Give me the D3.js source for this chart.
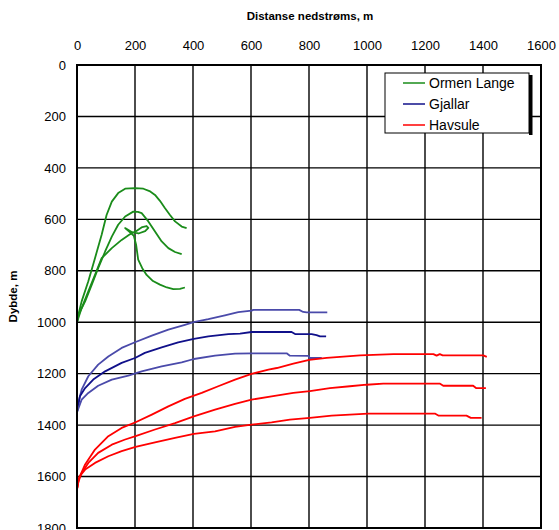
<!DOCTYPE html>
<html>
<head>
<meta charset="utf-8">
<script src="https://cdn.jsdelivr.net/npm/d3@7"></script>
<style>
  body { margin: 0; background: #fff; }
  svg { display: block; font-family: "Liberation Sans", Arial, sans-serif; }
</style>
</head>
<body>
<svg id="chart" width="559" height="530"></svg>
<script>
// Plume trajectories: [distance downstream (m), depth (m)]
const xTicks = [0, 200, 400, 600, 800, 1000, 1200, 1400, 1600];
const yTicks = [0, 200, 400, 600, 800, 1000, 1200, 1400, 1600, 1800];

const seriesNames = ["Ormen Lange", "Gjallar", "Havsule"];
const seriesColors = ["#1a8c1a", "#10108a", "#ff0000"];

const ormenLangeA = [[0,1000],[7,960],[16,919],[39,841],[62,751],[85,660],[102,583],[120,531],[142,498],[166,481],[200,479],[229,481],[250,490],[269,505],[286,528],[303,556],[320,582],[338,608],[361,628],[378,634]];
const ormenLangeB = [[0,1000],[5,971],[28,919],[51,854],[73,790],[97,725],[120,667],[142,621],[166,589],[194,570],[210,571],[223,576],[246,608],[269,647],[292,686],[315,712],[338,727],[361,735]];
const ormenLangeC = [[0,1000],[16,945],[39,880],[62,816],[85,751],[120,712],[154,680],[180,660],[205,645],[225,630],[240,626],[246,633],[235,646],[212,655],[190,650],[166,634],[180,648],[196,664],[204,700],[211,757],[225,790],[240,816],[262,840],[286,854],[310,865],[332,871],[355,870],[372,865]];

const gjallarA = [[0,1350],[5,1310],[16,1262],[39,1210],[73,1165],[108,1133],[154,1100],[200,1078],[258,1052],[315,1029],[372,1010],[402,1000],[453,988],[510,973],[556,961],[602,955],[608,952],[766,952],[780,960],[792,962],[863,962]];
const gjallarB = [[0,1350],[10,1288],[28,1256],[56,1223],[97,1191],[154,1158],[200,1139],[234,1119],[292,1098],[349,1078],[403,1065],[453,1055],[522,1046],[562,1044],[602,1038],[740,1038],[752,1046],[809,1046],[826,1050],[838,1055],[859,1055]];
const gjallarC = [[0,1350],[16,1301],[39,1275],[73,1247],[120,1223],[177,1208],[223,1191],[292,1172],[361,1156],[403,1143],[476,1130],[545,1122],[602,1121],[723,1121],[734,1130],[798,1131],[803,1139],[844,1139]];

const havsuleA = [[0,1650],[5,1612],[28,1553],[62,1495],[108,1443],[154,1411],[202,1389],[258,1359],[315,1327],[372,1298],[430,1275],[487,1249],[545,1223],[602,1201],[660,1184],[689,1178],[746,1161],[801,1146],[861,1139],[976,1129],[1091,1124],[1229,1124],[1240,1130],[1251,1124],[1261,1129],[1401,1129],[1413,1135]];
const havsuleB = [[0,1650],[5,1620],[16,1586],[39,1547],[73,1508],[120,1476],[166,1456],[202,1443],[269,1417],[338,1392],[403,1366],[476,1340],[545,1317],[602,1301],[671,1288],[746,1275],[803,1268],[872,1256],[941,1249],[999,1243],[1056,1239],[1252,1239],[1263,1247],[1366,1247],[1376,1256],[1410,1256]];
const havsuleC = [[0,1650],[8,1600],[28,1573],[62,1547],[108,1521],[154,1501],[202,1485],[269,1467],[338,1450],[403,1434],[476,1424],[545,1407],[602,1398],[671,1389],[734,1379],[803,1372],[878,1363],[1004,1355],[1234,1355],[1246,1363],[1343,1363],[1358,1372],[1395,1372]];

const lines = [
  { data: ormenLangeA, color: "#1a8c1a" },
  { data: ormenLangeB, color: "#1a8c1a" },
  { data: ormenLangeC, color: "#1a8c1a" },
  { data: gjallarA, color: "#4a4aaa" },
  { data: gjallarB, color: "#10108a" },
  { data: gjallarC, color: "#4a4aaa" },
  { data: havsuleA, color: "#ff0000" },
  { data: havsuleB, color: "#ff0000" },
  { data: havsuleC, color: "#ff0000" }
];

const svg = d3.select("#chart");
const plotLeft = 77, plotRight = 541, plotTop = 65, plotBottom = 528;

const x = d3.scaleLinear().domain([0, 1600]).range([plotLeft, plotRight]);
const y = d3.scaleLinear().domain([0, 1800]).range([plotTop, plotBottom]);
const fmt = d3.format("d");

// grid
const grid = svg.append("g");
grid.selectAll("line.v").data(xTicks.slice(1, -1)).join("line")
  .attr("class", "v")
  .attr("x1", d => x(d)).attr("x2", d => x(d))
  .attr("y1", plotTop).attr("y2", plotBottom)
  .attr("stroke", "#000").attr("stroke-width", 1.4);
grid.selectAll("line.h").data(yTicks.slice(1, -1)).join("line")
  .attr("class", "h")
  .attr("x1", plotLeft).attr("x2", plotRight)
  .attr("y1", d => y(d)).attr("y2", d => y(d))
  .attr("stroke", "#000").attr("stroke-width", 1.4);

// axes along top and left, tick labels only
const xAxis = svg.append("g").attr("transform", `translate(0,${plotTop - 15})`)
  .call(d3.axisTop(x).tickValues(xTicks).tickFormat(fmt).tickSize(0).tickPadding(0));
xAxis.select(".domain").remove();
xAxis.selectAll("text").attr("font-size", 13).attr("fill", "#000")
  .attr("font-family", "Liberation Sans, Arial, sans-serif");

const yAxis = svg.append("g").attr("transform", `translate(${plotLeft - 11},0)`)
  .call(d3.axisLeft(y).tickValues(yTicks).tickFormat(fmt).tickSize(0).tickPadding(0));
yAxis.select(".domain").remove();
yAxis.selectAll("text").attr("font-size", 13).attr("fill", "#000")
  .attr("font-family", "Liberation Sans, Arial, sans-serif");

// trajectories
const lineGen = d3.line().x(d => x(d[0])).y(d => y(d[1]));
svg.append("g").selectAll("path").data(lines).join("path")
  .attr("d", d => lineGen(d.data))
  .attr("fill", "none")
  .attr("stroke", d => d.color)
  .attr("stroke-width", 1.8)
  .attr("stroke-linejoin", "round");

// frame
svg.append("rect")
  .attr("x", plotLeft).attr("y", plotTop)
  .attr("width", plotRight - plotLeft).attr("height", plotBottom - plotTop)
  .attr("fill", "none").attr("stroke", "#000").attr("stroke-width", 2);

// titles
svg.append("text")
  .attr("x", 310).attr("y", 20)
  .attr("text-anchor", "middle")
  .attr("font-size", 11.5).attr("font-weight", "bold")
  .text("Distanse nedstrøms, m");

svg.append("text")
  .attr("transform", `translate(17,${(plotTop + plotBottom) / 2}) rotate(-90)`)
  .attr("text-anchor", "middle")
  .attr("font-size", 11.5).attr("font-weight", "bold")
  .text("Dybde, m");

// legend
const lg = svg.append("g");
lg.append("rect").attr("x", 529).attr("y", 75).attr("width", 3.5).attr("height", 60).attr("fill", "#000");
lg.append("rect").attr("x", 385).attr("y", 73).attr("width", 144).attr("height", 60)
  .attr("fill", "#fff").attr("stroke", "#000").attr("stroke-width", 1);
seriesNames.forEach((name, i) => {
  const cy = 83 + i * 21;
  lg.append("line").attr("x1", 403).attr("x2", 425).attr("y1", cy).attr("y2", cy)
    .attr("stroke", seriesColors[i]).attr("stroke-width", 1.5);
  lg.append("text").attr("x", 429).attr("y", cy + 5)
    .attr("font-size", 14).text(name);
});
</script>
</body>
</html>
